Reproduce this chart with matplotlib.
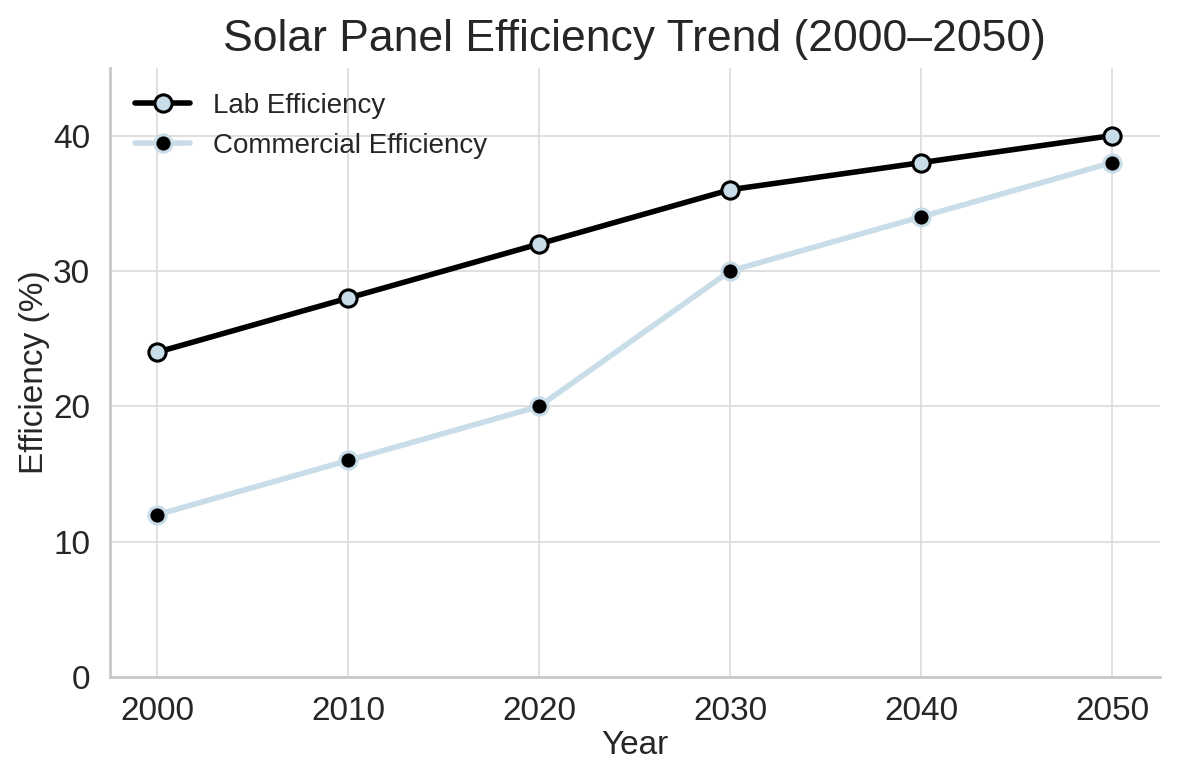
import matplotlib.pyplot as plt
import seaborn as sns

years = [2000, 2010, 2020, 2030, 2040, 2050]
lab_eff = [24, 28, 32, 36, 38, 40]
commercial_eff = [12, 16, 20, 30, 34, 38]

light_blue = "#c8dde8"

sns.set_style("whitegrid")
plt.rcParams['font.family'] = ['Liberation Sans', 'DejaVu Sans']

fig, ax = plt.subplots(figsize=(5.9, 3.9), dpi=200)
ax.plot(years, lab_eff, color="black", linewidth=2.0, marker="o", markersize=6.2,
        markerfacecolor=light_blue, markeredgecolor="black", markeredgewidth=1.1,
        label="Lab Efficiency")
ax.plot(years, commercial_eff, color=light_blue, linewidth=2.0, marker="o", markersize=6.2,
        markerfacecolor="black", markeredgecolor=light_blue, markeredgewidth=1.1,
        label="Commercial Efficiency")

ax.set_ylim(0, 45)
ax.set_xticks(years)
ax.set_yticks([0, 10, 20, 30, 40])
ax.set_title("Solar Panel Efficiency Trend (2000\u20132050)", fontsize=16, color="#262626")
ax.set_xlabel("Year", fontsize=12, color="#262626", labelpad=1)
ax.set_ylabel("Efficiency (%)", fontsize=12, color="#262626", labelpad=1)
ax.tick_params(axis="both", labelsize=12, colors="#262626")
ax.grid(color="#dadada", linewidth=0.6)
ax.legend(loc="upper left", frameon=False, fontsize=10)
sns.despine(ax=ax)
for s in ["left", "bottom"]:
    ax.spines[s].set_color("#c8c8c8")
    ax.spines[s].set_linewidth(1.0)

fig.subplots_adjust(left=0.093, right=0.983, top=0.913, bottom=0.132)
fig.savefig("out.png", dpi=200)
